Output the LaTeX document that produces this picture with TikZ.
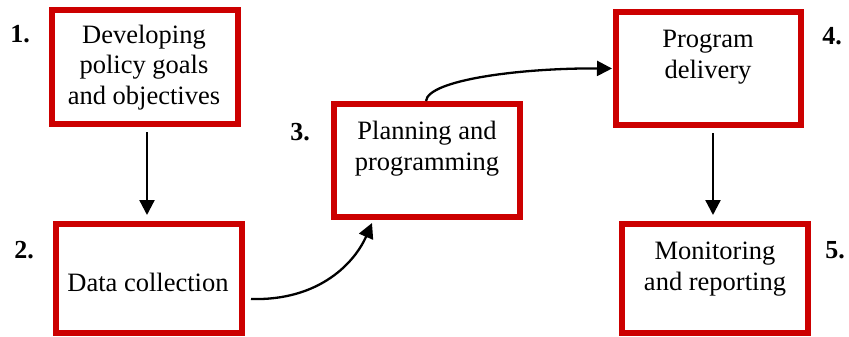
\documentclass[tikz,border=0pt]{standalone}
\usepackage{fontspec}
\setmainfont{Liberation Serif}
\usetikzlibrary{arrows.meta,calc}
\definecolor{boxred}{HTML}{CC0000}
\tikzset{
  stagebox/.style={draw=boxred, line width=6pt, rectangle, inner sep=0pt},
  stagetext/.style={font=\fontsize{26.5}{30.5}\selectfont, align=center, anchor=base, inner sep=0pt},
  stagenum/.style={font=\fontsize{26}{30}\selectfont\bfseries, anchor=base, inner sep=0pt},
  arr/.style={line width=2.3pt, -{Triangle[length=15pt,width=15pt]}}
}
\begin{document}
\begin{tikzpicture}[x=1pt,y=-1pt]
\useasboundingbox (0,0) rectangle (849,337);
% boxes
\node[stagebox, minimum width=186pt, minimum height=114pt] (b1) at (145,67) {};
\node[stagebox, minimum width=186pt, minimum height=109pt] (b2) at (149,278.5) {};
\node[stagebox, minimum width=186pt, minimum height=113pt] (b3) at (427,160.5) {};
\node[stagebox, minimum width=185pt, minimum height=113pt] (b4) at (708.5,68.5) {};
\node[stagebox, minimum width=186pt, minimum height=109pt] (b5) at (715,278.5) {};
% texts (base anchor = baseline of last line)
\node[stagetext] (t1) at (144,104) {Developing\\policy goals\\and objectives};
\node[stagetext] (t2) at (148,291) {Data collection};
\node[stagetext] (t3) at (427,170) {Planning and\\programming};
\node[stagetext] (t4) at (708,78) {Program\\delivery};
\node[stagetext] (t5) at (715,290) {Monitoring\\and reporting};
% numbers
\node[stagenum] (n1) at (20,43) {1.};
\node[stagenum] (n2) at (24,258) {2.};
\node[stagenum] (n3) at (300,140) {3.};
\node[stagenum] (n4) at (832,45) {4.};
\node[stagenum] (n5) at (835,258) {5.};
% connectors
\draw[arr, shorten <=5pt, shorten >=6pt] ([xshift=2pt]b1.south) -- ([xshift=-2pt]b2.north);
\draw[arr, shorten <=5pt, shorten >=6pt] ([xshift=4.5pt]b4.south) -- ([xshift=-2pt]b5.north);
\draw[arr] ($(b2.east)+(6,20.5)$) .. controls (320,301) and (355,262) .. ($(b3.south)+(-55,3)$);
\draw[arr] ($(b3.north)+(-1,0)$) .. controls (428,80) and (520,68) .. ($(b4.west)+(-1,0)$);
\end{tikzpicture}
\end{document}
